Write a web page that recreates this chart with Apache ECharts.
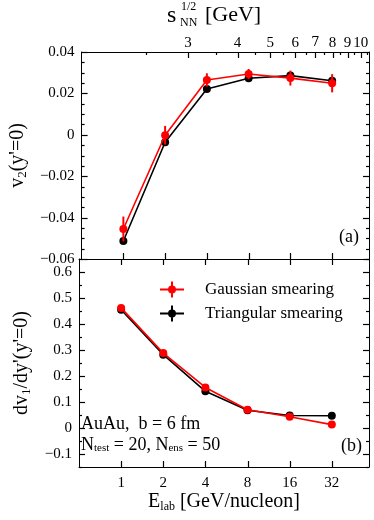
<!DOCTYPE html>
<html>
<head>
<meta charset="utf-8">
<script src="https://cdn.jsdelivr.net/npm/echarts@6/dist/echarts.min.js"></script>
<style>
  html, body { margin: 0; padding: 0; background: #fff; }
  #chart { width: 374px; height: 520px; }
</style>
</head>
<body>
<div id="chart"></div>
<script>
// 束流能量 E_lab [GeV/nucleon]
const energies = [1, 2, 4, 8, 16, 32];

// (a) v2(y'=0)
const v2Gauss = [-0.0455, -0.0002, 0.0265, 0.0294, 0.0274, 0.0249];
const v2GaussErr = [0.006, 0.0045, 0.0032, 0.0024, 0.0036, 0.0044];
const v2Tri = [-0.0513, -0.0036, 0.0221, 0.0273, 0.0286, 0.0261];
const v2TriErr = [0.0008, 0.0008, 0.0008, 0.0008, 0.0008, 0.0008];

// (b) dv1/dy'(y'=0)
const dv1Gauss = [0.462, 0.288, 0.156, 0.070, 0.0435, 0.013];
const dv1GaussErr = [0.004, 0.004, 0.004, 0.003, 0.003, 0.003];
const dv1Tri = [0.455, 0.282, 0.141, 0.068, 0.048, 0.047];
const dv1TriErr = [0.003, 0.003, 0.003, 0.003, 0.003, 0.003];

// 刻度
const v2Ticks = [-0.06, -0.04, -0.02, 0, 0.02, 0.04];
const v2Minor = [-0.055, -0.05, -0.045, -0.035, -0.03, -0.025, -0.015, -0.01, -0.005,
  0.005, 0.01, 0.015, 0.025, 0.03, 0.035];
const dv1Ticks = [-0.1, 0, 0.1, 0.2, 0.3, 0.4, 0.5, 0.6];
const dv1Minor = [-0.15, -0.05, 0.05, 0.15, 0.25, 0.35, 0.45, 0.55, 0.65];
const sqrtsTicks = [3, 4, 5, 6, 7, 8, 9, 10];
const sqrtsMinor = [2.5, 3.5, 4.5, 5.5, 6.5, 7.5, 8.5, 9.5, 10.5];

const FONT = 'Liberation Serif';
const RED = '#ff0000';
const BLACK = '#000000';
const M2 = 2 * 0.938; // 2 m_N

/**
 * sqrt(s_NN) -> E_lab (kinetic, per nucleon)
 */
function sqrtsToElab(rs) {
  return rs * rs / M2 - M2;
}

const chart = echarts.init(document.getElementById('chart'));

const fmt2 = v => (Math.abs(v) < 1e-9 ? '0' : (v < 0 ? '\u2212' : '') + Math.abs(v).toFixed(2));
const fmt1 = v => (Math.abs(v) < 1e-9 ? '0' : (v < 0 ? '\u2212' : '') + Math.abs(v).toFixed(1));

const labelStyle = () => ({ fontFamily: FONT, fontSize: 15, color: '#000' });
const tickStyle = () => ({ stroke: '#000', lineWidth: 1.2 });

// x 轴公共设置（对数坐标，底数 2）
function xLog(gridIndex, position, extra) {
  return Object.assign({
    type: 'log', logBase: 2, gridIndex, position,
    min: 0.5, max: 59,
    axisLine: { show: true, onZero: false, lineStyle: { color: '#000', width: 1 } },
    axisTick: { show: false },
    axisLabel: { show: false },
    splitLine: { show: false }
  }, extra);
}

// y 轴公共设置
function yVal(gridIndex, position, extra) {
  return Object.assign({
    type: 'value', gridIndex, position,
    axisLine: { show: true, onZero: false, lineStyle: { color: '#000', width: 1 } },
    axisTick: { show: false },
    axisLabel: { show: false },
    splitLine: { show: false }
  }, extra);
}

/**
 * x 方向刻度线（向内），位置由坐标轴比例尺换算
 */
function xTicks(values, axisIndex, sides, len) {
  return {
    type: 'custom', xAxisIndex: axisIndex, yAxisIndex: axisIndex,
    data: values.map(v => [v, 0]),
    encode: { x: 0, y: 1 },
    silent: true, clip: false, z: 10,
    renderItem(params, api) {
      const cs = params.coordSys;
      const x = Math.round(api.coord([api.value(0), 0])[0]) + 0.5;
      const children = [];
      if (sides.indexOf('bottom') >= 0) {
        children.push({ type: 'line', shape: { x1: x, y1: cs.y + cs.height, x2: x, y2: cs.y + cs.height - len }, style: tickStyle() });
      }
      if (sides.indexOf('top') >= 0) {
        children.push({ type: 'line', shape: { x1: x, y1: cs.y, x2: x, y2: cs.y + len }, style: tickStyle() });
      }
      return { type: 'group', children };
    }
  };
}

/**
 * y 方向刻度线（左右两侧，向内）
 */
function yTicks(values, axisIndex, len) {
  return {
    type: 'custom', xAxisIndex: axisIndex, yAxisIndex: axisIndex,
    data: values.map(v => [1, v]),
    encode: { x: 0, y: 1 },
    silent: true, clip: false, z: 10,
    renderItem(params, api) {
      const cs = params.coordSys;
      const y = Math.round(api.coord([1, api.value(1)])[1]) + 0.5;
      return {
        type: 'group',
        children: [
          { type: 'line', shape: { x1: cs.x, y1: y, x2: cs.x + len, y2: y }, style: tickStyle() },
          { type: 'line', shape: { x1: cs.x + cs.width, y1: y, x2: cs.x + cs.width - len, y2: y }, style: tickStyle() }
        ]
      };
    }
  };
}

/**
 * 顶部 sqrt(s_NN) 刻度标签
 * 注意：此环境中 Liberation Serif 的 "7" 不显示，改用 DejaVu Serif
 */
function sqrtsLabels() {
  return {
    type: 'custom', xAxisIndex: 0, yAxisIndex: 0,
    data: sqrtsTicks.map(rs => [sqrtsToElab(rs), 0, rs]),
    encode: { x: 0, y: 1 },
    silent: true, clip: false, z: 10,
    renderItem(params, api) {
      const cs = params.coordSys;
      const x = api.coord([api.value(0), 0])[0];
      const txt = String(api.value(2));
      const font = txt.indexOf('7') >= 0 ? '13px "DejaVu Serif"' : '15px "Liberation Serif"';
      return {
        type: 'text', x, y: cs.y - 9,
        style: { text: txt, font, fill: '#000', align: 'center', verticalAlign: 'middle' }
      };
    }
  };
}

/**
 * 误差棒（竖线）
 */
function errorBars(name, values, errs, color, axisIndex, z) {
  return {
    type: 'custom', name,
    xAxisIndex: axisIndex, yAxisIndex: axisIndex,
    data: energies.map((e, i) => [e, values[i] - errs[i], values[i] + errs[i]]),
    encode: { x: 0, y: [1, 2] },
    itemStyle: { color },
    z,
    silent: true,
    renderItem(params, api) {
      const lo = api.coord([api.value(0), api.value(1)]);
      const hi = api.coord([api.value(0), api.value(2)]);
      return {
        type: 'line',
        shape: { x1: lo[0], y1: lo[1], x2: hi[0], y2: hi[1] },
        style: { stroke: color, lineWidth: 2 }
      };
    }
  };
}

function lineSeries(name, values, color, axisIndex, z) {
  return {
    type: 'line', name,
    xAxisIndex: axisIndex, yAxisIndex: axisIndex,
    data: energies.map((e, i) => [e, values[i]]),
    symbol: 'circle', symbolSize: 8,
    itemStyle: { color },
    lineStyle: { color, width: 1.6 },
    z,
    animation: false
  };
}

// 图例图标：横线 + 竖线 + 圆点
const legendIcon = 'path://M0,7 H24 V9 H0 Z M11,0 H13 V16 H11 Z M12,4 A4,4 0 1 1 12,12 A4,4 0 1 1 12,4 Z';

const subRich = () => ({
  m: { fontFamily: FONT, fontSize: 20, color: '#000' },
  s: { fontFamily: FONT, fontSize: 13, color: '#000', padding: [9, 0, 0, 0] }
});

const option = {
  animation: false,
  grid: [
    { left: 79, right: 5, top: 52, height: 207 },
    { left: 79, right: 5, top: 259, height: 208 }
  ],
  xAxis: [
    // 0: (a) 下边框
    xLog(0, 'bottom'),
    // 1: (b) 下边框，带标签
    xLog(1, 'bottom', {
      axisLabel: { show: true, customValues: energies, margin: 9, ...labelStyle(), formatter: v => String(Math.round(v)) },
      name: '{m|E}{s|lab}{m| [GeV/nucleon]}',
      nameLocation: 'middle',
      nameGap: 24,
      nameTextStyle: {
        rich: {
          m: { fontFamily: FONT, fontSize: 20, color: '#000' },
          s: { fontFamily: FONT, fontSize: 12, color: '#000', padding: [9, 0, 0, 0] }
        }
      }
    }),
    // 2: (a) 上边框
    xLog(0, 'top'),
    // 3: (b) 上边框
    xLog(1, 'top')
  ],
  yAxis: [
    // 0: (a) 左
    yVal(0, 'left', {
      min: -0.06, max: 0.04, interval: 0.02,
      axisLabel: { show: true, margin: 7, ...labelStyle(), formatter: fmt2 },
      name: '{m|v}{s|2}{m|(y\'=0)}',
      nameLocation: 'middle', nameGap: 46, nameRotate: 90,
      nameTextStyle: { rich: subRich() }
    }),
    // 1: (b) 左
    yVal(1, 'left', {
      min: -0.15, max: 0.65,
      axisLabel: { show: true, margin: 7, ...labelStyle(), customValues: dv1Ticks, formatter: fmt1 },
      name: '{m|dv}{s|1}{m|/dy\'(y\'=0)}',
      nameLocation: 'middle', nameGap: 46, nameRotate: 90,
      nameTextStyle: { rich: subRich() }
    }),
    // 2: (a) 右
    yVal(0, 'right', { min: -0.06, max: 0.04, interval: 0.02 }),
    // 3: (b) 右
    yVal(1, 'right', { min: -0.15, max: 0.65 })
  ],
  legend: {
    orient: 'vertical',
    left: 155, top: 276,
    itemWidth: 24, itemHeight: 16, itemGap: 7,
    data: [
      { name: 'Gaussian smearing', icon: legendIcon, itemStyle: { color: RED } },
      { name: 'Triangular smearing', icon: legendIcon, itemStyle: { color: BLACK } }
    ],
    textStyle: { fontFamily: FONT, fontSize: 17, color: '#000', padding: [0, 0, 0, 16] },
    selectedMode: false
  },
  series: [
    // 刻度线
    xTicks(energies, 0, ['bottom'], 6),
    xTicks(energies, 1, ['bottom', 'top'], 6),
    xTicks(sqrtsTicks.map(sqrtsToElab), 0, ['top'], 6),
    xTicks(sqrtsMinor.map(sqrtsToElab), 0, ['top'], 3),
    yTicks(v2Ticks, 0, 6),
    yTicks(v2Minor, 0, 3),
    yTicks(dv1Ticks, 1, 6),
    yTicks(dv1Minor, 1, 3),
    sqrtsLabels(),
    // (a)
    errorBars('Triangular smearing', v2Tri, v2TriErr, BLACK, 0, 2),
    lineSeries('Triangular smearing', v2Tri, BLACK, 0, 3),
    errorBars('Gaussian smearing', v2Gauss, v2GaussErr, RED, 0, 4),
    lineSeries('Gaussian smearing', v2Gauss, RED, 0, 5),
    // (b)
    errorBars('Triangular smearing', dv1Tri, dv1TriErr, BLACK, 1, 2),
    lineSeries('Triangular smearing', dv1Tri, BLACK, 1, 3),
    errorBars('Gaussian smearing', dv1Gauss, dv1GaussErr, RED, 1, 4),
    lineSeries('Gaussian smearing', dv1Gauss, RED, 1, 5)
  ],
  graphic: [
    // 顶部坐标轴标题 s_NN^{1/2} [GeV]
    { type: 'text', left: 167, top: 4, style: { text: 's', font: '24px "Liberation Serif"', fill: '#000' } },
    { type: 'text', left: 181, top: 1, style: { text: '1/2', font: '12px "Liberation Serif"', fill: '#000' } },
    { type: 'text', left: 180, top: 17, style: { text: 'NN', font: '12px "Liberation Serif"', fill: '#000' } },
    { type: 'text', left: 205, top: 4, style: { text: '[GeV]', font: '22px "Liberation Serif"', fill: '#000' } },
    // 面板标记
    { type: 'text', right: 15, top: 228, style: { text: '(a)', font: '18px "Liberation Serif"', fill: '#000' } },
    { type: 'text', right: 12, top: 437, style: { text: '(b)', font: '18px "Liberation Serif"', fill: '#000' } },
    // 模拟参数
    { type: 'text', left: 81, top: 415, style: { text: 'AuAu,  b = 6 fm', font: '18px "Liberation Serif"', fill: '#000' } },
    {
      type: 'text', left: 81, top: 436,
      style: {
        text: '{m|N}{s|test}{m| = 20, N}{s|ens}{m| = 50}',
        rich: {
          m: { fontFamily: FONT, fontSize: 18, fill: '#000' },
          s: { fontFamily: FONT, fontSize: 11, fill: '#000', padding: [7, 0, 0, 0] }
        }
      }
    }
  ]
};

chart.setOption(option);
</script>
</body>
</html>
